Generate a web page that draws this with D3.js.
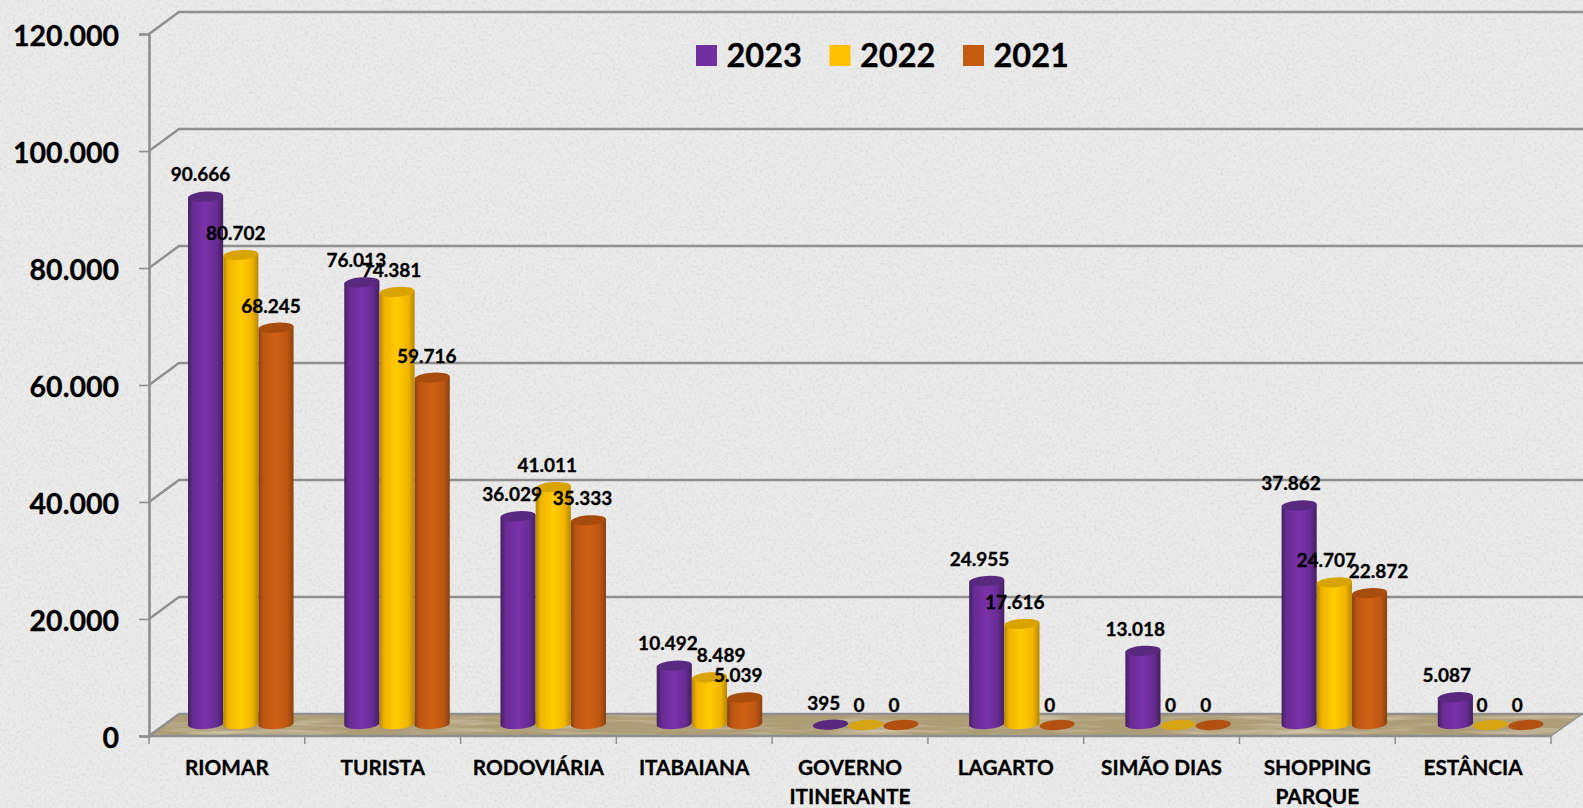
<!DOCTYPE html>
<html><head><meta charset="utf-8">
<script src="https://cdnjs.cloudflare.com/ajax/libs/d3/7.8.5/d3.min.js"></script>
<style>html,body{margin:0;padding:0;background:#e9e9e9;overflow:hidden}svg{display:block}text{font-family:Lato,"Open Sans",sans-serif;font-weight:700;fill:#000;stroke:#000;stroke-width:.3px}</style>
</head><body><svg id="c" width="1583" height="808"></svg>
<script>
const categories = ["RIOMAR","TURISTA","RODOVIÁRIA","ITABAIANA","GOVERNO\nITINERANTE","LAGARTO","SIMÃO DIAS","SHOPPING\nPARQUE","ESTÂNCIA"];
const seriesNames = ["2023","2022","2021"];
const values2023 = [90666,76013,36029,10492,395,24955,13018,37862,5087];
const values2022 = [80702,74381,41011,8489,0,17616,0,24707,0];
const values2021 = [68245,59716,35333,5039,0,0,0,22872,0];
const seriesValues = [values2023,values2022,values2021];
const palette = [
 {edge:"#43205f",side:"#672c92",mid:"#7a32ab",top:"#59287f",disk:"#5f2a8c",key:"#7030a0"},
 {edge:"#b58700",side:"#f0b400",mid:"#ffcc00",top:"#d9a300",disk:"#d6a410",key:"#ffc000"},
 {edge:"#8a4210",side:"#bd5612",mid:"#d06115",top:"#a84c0e",disk:"#b25010",key:"#c55a11"}];

const svg = d3.select("#c");
const W=1583,H=808, depthX=30, depthY=22;
const y = d3.scaleLinear().domain([0,120000]).range([736,34]);
const xTick = d3.scaleBand().domain(categories).range([149,1551]);
const xBar  = d3.scaleBand().domain(categories).range([149,1555]);
const xSeries = d3.scaleBand().domain(seriesNames).range([39,39+105.6]);
const fmt = d3.formatLocale({decimal:",",thousands:".",grouping:[3],currency:["",""]}).format(",d");

const defs = svg.append("defs");
const bg = defs.append("filter").attr("id","speck").attr("x",0).attr("y",0).attr("width","100%").attr("height","100%");
bg.append("feTurbulence").attr("type","fractalNoise").attr("baseFrequency",0.38).attr("numOctaves",3).attr("seed",7);
bg.append("feColorMatrix").attr("type","matrix").attr("values","0 0 0 0 0.72  0 0 0 0 0.72  0 0 0 0 0.70  2.4 0 0 0 -1.05");
bg.append("feComposite").attr("in2","SourceGraphic").attr("operator","over");
const wood = defs.append("filter").attr("id","wood").attr("x",0).attr("y",0).attr("width","100%").attr("height","100%");
wood.append("feTurbulence").attr("type","fractalNoise").attr("baseFrequency","0.012 0.2").attr("numOctaves",3).attr("seed",3);
wood.append("feColorMatrix").attr("type","matrix").attr("values","0 0 0 0 0.78  0 0 0 0 0.71  0 0 0 0 0.54  1.3 0 0 0 -0.58");
wood.append("feComposite").attr("in2","SourceGraphic").attr("operator","atop");
wood.append("feComposite").attr("in2","SourceAlpha").attr("operator","in");

palette.forEach((p,i)=>{
  const g = defs.append("linearGradient").attr("id","cyl"+i);
  [[0,p.edge],[.14,p.side],[.5,p.mid],[.82,p.side],[1,p.edge]].forEach(s=>g.append("stop").attr("offset",s[0]).attr("stop-color",s[1]));
});

svg.append("rect").attr("width",W).attr("height",H).attr("fill","#ebebeb").attr("filter","url(#speck)");

// floor
const fl = d3.line()([[xTick.range()[0],y(0)],[xTick.range()[1],y(0)],[xTick.range()[1]+depthX+1,y(0)-depthY],[xTick.range()[0]+depthX,y(0)-depthY]])+"Z";
svg.append("path").attr("d",fl).attr("fill","#ad9d76").attr("filter","url(#wood)");

// walls and gridlines
const gridColor="#8f8f8f";
const ticks = y.ticks(6);
const grid = svg.append("g").attr("fill","none").attr("stroke",gridColor).attr("stroke-width",2.4);
grid.selectAll("path").data(ticks).join("path")
  .attr("d",t=>d3.line()([[xTick.range()[0],y(t)],[xTick.range()[0]+depthX,y(t)-depthY],[W,y(t)-depthY]]));
svg.append("path").attr("d",d3.line()([[xTick.range()[1],y(0)],[xTick.range()[1]+depthX+1,y(0)-depthY]])).attr("stroke",gridColor).attr("stroke-width",1.5);

// y axis
const axisY = svg.append("g").attr("transform",`translate(${xTick.range()[0]},0)`)
  .call(d3.axisLeft(y).tickValues(ticks).tickFormat(fmt).tickSize(10).tickPadding(20));
axisY.select(".domain").attr("stroke",gridColor).attr("stroke-width",2.6);
axisY.selectAll("line").attr("stroke",gridColor).attr("stroke-width",1.6);
axisY.selectAll("text").attr("font-size",28.5).attr("font-family","Lato").attr("dy","0.41em");

// x axis
const bnd = categories.map((c,i)=>xTick.range()[0]+xTick.step()*i).concat(xTick.range()[1]);
svg.append("line").attr("x1",xTick.range()[0]).attr("x2",xTick.range()[1]).attr("y1",y(0)).attr("y2",y(0)).attr("stroke",gridColor).attr("stroke-width",2.6);
svg.append("g").selectAll("line").data(bnd).join("line")
  .attr("x1",d=>d).attr("x2",d=>d).attr("y1",y(0)).attr("y2",y(0)+8).attr("stroke",gridColor).attr("stroke-width",1.5);
const cat = svg.append("g").selectAll("text").data(categories).join("text")
  .attr("text-anchor","middle").attr("font-size",20.8)
  .attr("x",c=>xTick(c)+xTick.bandwidth()/2);
cat.selectAll("tspan").data(c=>c.split("\n").map(l=>[c,l])).join("tspan")
  .attr("x",d=>xTick(d[0])+xTick.bandwidth()/2)
  .attr("y",(d,i)=>774.5+i*29).text(d=>d[1]);

// cylinders
const rx=xSeries.bandwidth()/2, ry=5, tilt=4, dx=rx*Math.cos(tilt*Math.PI/180), dy=rx*Math.sin(tilt*Math.PI/180);
const flat = [];
seriesNames.forEach((s,si)=>categories.forEach((c,ci)=>flat.push({s,si,c,ci,v:seriesValues[si][ci]})));
flat.sort((a,b)=>a.ci-b.ci||a.si-b.si);
const marks = svg.append("g");
flat.forEach(d=>{
  const cx = xBar(d.c)+xSeries(d.s)+rx, yb=y(0)-12, yt=d.v>0?y(d.v)-9:y(0)-11, p=palette[d.si];
  if(d.v>0){
    marks.append("path").attr("fill",`url(#cyl${d.si})`)
     .attr("d",`M${cx-dx},${yt+dy}L${cx-dx},${yb+dy}A${rx},${ry} ${-tilt} 0 0 ${cx+dx},${yb-dy}L${cx+dx},${yt-dy}Z`);
  }
  marks.append("ellipse").attr("cx",cx).attr("cy",yt).attr("rx",rx).attr("ry",ry)
   .attr("transform",`rotate(${-tilt} ${cx} ${yt})`).attr("fill",d.v>0?p.top:p.disk);
});

// data labels (two labels sit to the right of their bars in the reference)
const labelNudge = d => (d.v===8489?18:d.v===22872?17:0);
svg.append("g").selectAll("text").data(flat).join("text")
  .attr("text-anchor","middle").attr("font-size",19)
  .attr("x",d=>xTick(d.c)+xSeries(d.s)+rx-5+labelNudge(d))
  .attr("y",d=>y(d.v)-31).attr("dy","0.36em")
  .text(d=>fmt(d.v));

// legend
const legendX = d3.scalePoint().domain(seriesNames).range([696,963]);
const leg = svg.append("g").selectAll("g").data(seriesNames).join("g").attr("transform",s=>`translate(${legendX(s)},45)`);
leg.append("rect").attr("width",21).attr("height",21).attr("fill",(s,i)=>palette[i].key);
leg.append("text").attr("x",30.5).attr("y",22).attr("font-size",32.5).text(s=>s);
</script></body></html>
